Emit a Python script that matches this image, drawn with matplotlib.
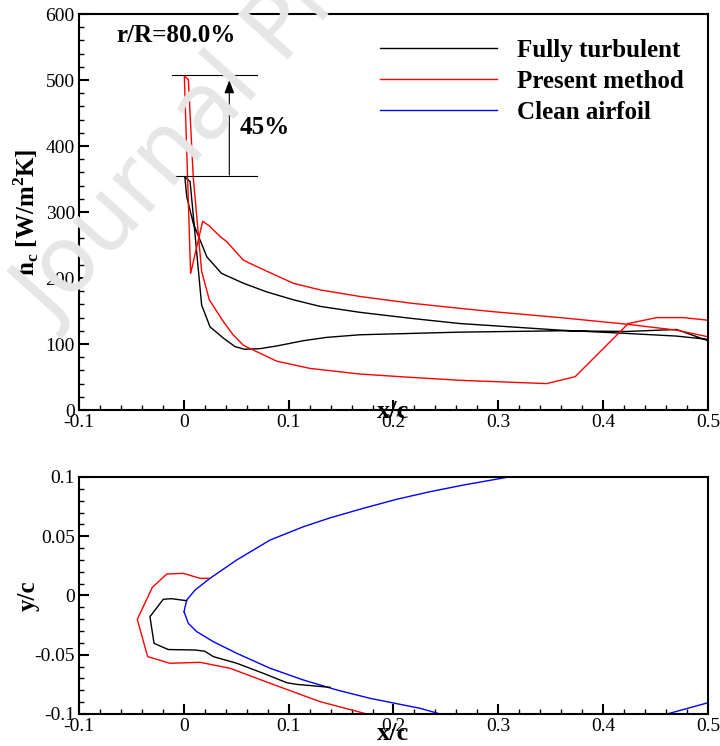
import matplotlib
matplotlib.use("Agg")
import matplotlib.pyplot as plt
from matplotlib.ticker import MultipleLocator, FuncFormatter

# ---- heat transfer coefficient, x/c vs h_c ----
ft_x = [0.5, 0.47, 0.4226, 0.359, 0.2635, 0.216, 0.168, 0.13, 0.1045, 0.079, 0.057, 0.036,
        0.022, 0.009, 0.0028, 0.001, 0.006, 0.017, 0.025, 0.0377, 0.0489, 0.058, 0.0727,
        0.0886, 0.114, 0.136, 0.168, 0.216, 0.2635, 0.359, 0.4226, 0.47, 0.5]
ft_h = [107, 112, 116, 121, 131, 139, 148, 157, 167, 179, 192, 207,
        232, 283, 323, 353, 346, 159, 126, 109, 96, 92, 93,
        97, 105, 110, 114, 116, 118, 120, 119, 122, 105]

pm_x = [0.5, 0.47, 0.4226, 0.359, 0.295, 0.2635, 0.216, 0.168, 0.13, 0.1045, 0.0727, 0.0568,
        0.041, 0.0345, 0.0243, 0.018, 0.0065, 0.0005, 0.0043, 0.009, 0.017, 0.0243, 0.0377,
        0.047, 0.0568, 0.0727, 0.0886, 0.1204, 0.168, 0.216, 0.2635, 0.346, 0.3733, 0.424,
        0.451, 0.4766, 0.5]
pm_h = [111, 121, 130, 140, 149, 154, 162, 172, 182, 192, 215, 227,
        255, 263, 279, 286, 207, 506, 501, 353, 210, 167, 134,
        114, 98, 86, 74, 63, 54.5, 49.5, 45, 40, 50.5, 131,
        140, 140, 136]

# ---- ice shapes, x/c vs y/c ----
clean_up_x = [0.0002, 0.0011, 0.0028, 0.0107, 0.025, 0.0505, 0.0823, 0.114, 0.1395, 0.1713,
              0.2032, 0.2349, 0.2667, 0.3081, 0.33]
clean_up_y = [-0.0137, -0.010, -0.0038, 0.0046, 0.0145, 0.03, 0.0468, 0.058, 0.0655, 0.0736,
              0.0812, 0.0876, 0.0932, 0.0997, 0.103]
clean_lo_x = [0.0002, 0.0043, 0.0123, 0.0282, 0.0505, 0.0823, 0.114, 0.1459, 0.1777, 0.2254,
              0.2477, 0.3, 0.36, 0.42, 0.461, 0.5]
clean_lo_y = [-0.0137, -0.0235, -0.0305, -0.039, -0.0488, -0.0614, -0.0713, -0.0797, -0.0868, -0.0952,
              -0.1008, -0.108, -0.111, -0.108, -0.1, -0.0905]

ft_ice_x = [0.0028, -0.0116, -0.0196, -0.0323, -0.0284, -0.0148, 0.0107, 0.02, 0.0282, 0.0505,
            0.0759, 0.0982, 0.1077, 0.1395]
ft_ice_y = [-0.0044, -0.0027, -0.0032, -0.0179, -0.0404, -0.0456, -0.046, -0.047, -0.0516, -0.0572,
            -0.0657, -0.0736, -0.075, -0.0775]

pm_ice_x = [0.0234, 0.0155, -0.0005, -0.0163, -0.03, -0.0444, -0.0345, -0.0132, 0.0155, 0.0441,
            0.0823, 0.13, 0.1777, 0.19]
pm_ice_y = [0.0145, 0.0145, 0.0187, 0.0181, 0.0069, -0.0201, -0.0516, -0.0572, -0.0564, -0.0614,
            -0.0741, -0.0896, -0.1007, -0.104]

plt.rcParams['font.family'] = 'Liberation Serif'
plt.rcParams['mathtext.fontset'] = 'custom'
plt.rcParams['mathtext.rm'] = 'Liberation Serif'
plt.rcParams['mathtext.bf'] = 'Liberation Serif:bold'
plt.rcParams['axes.unicode_minus'] = False

fig = plt.figure(figsize=(7.2, 7.46), dpi=100)
ax1 = fig.add_axes([0.1097, 0.4504, 0.8736, 0.5308])
ax2 = fig.add_axes([0.1097, 0.0429, 0.8736, 0.3177])

# faint watermark
fig.text(0.0, 0.545, 'Journal Pre-proof', fontsize=66, color='#e6e6e6', rotation=48,
         family='DejaVu Sans', ha='left', va='bottom', zorder=0)

fmt = FuncFormatter(lambda v, p: '%g' % round(v, 4))


def style(ax):
    ax.set_facecolor('none')
    for s in ax.spines.values():
        s.set_linewidth(1.5)
    ax.tick_params(which='both', direction='in', top=False, right=False, labelsize=14, pad=3)
    ax.tick_params(which='major', length=7, width=1.5)
    ax.tick_params(which='minor', length=3.5, width=1)
    ax.xaxis.set_major_formatter(fmt)
    ax.yaxis.set_major_formatter(fmt)


lw = 1.0
ax1.plot(ft_x, ft_h, color='black', lw=lw, label='Fully turbulent')
ax1.plot(pm_x, pm_h, color='red', lw=lw, label='Present method')
ax1.plot([], [], color='blue', lw=lw, label='Clean airfoil')
ax1.set_xlim(-0.1, 0.5)
ax1.set_ylim(0, 600)
ax1.xaxis.set_major_locator(MultipleLocator(0.1))
ax1.xaxis.set_minor_locator(MultipleLocator(0.02))
ax1.yaxis.set_major_locator(MultipleLocator(100))
ax1.yaxis.set_minor_locator(MultipleLocator(20))
style(ax1)

# 45% annotation
ax1.plot([-0.011, 0.07], [508, 508], color='black', lw=0.8)
ax1.plot([-0.011, 0.07], [354, 354], color='black', lw=0.8)
ax1.annotate('', xy=(0.0434, 500), xytext=(0.0434, 356),
             arrowprops=dict(arrowstyle='-|>,head_length=0.8,head_width=0.3', lw=0.8,
                             color='black', mutation_scale=10, shrinkA=0, shrinkB=0))
ax1.text(0.053, 428, '45%', fontsize=18, fontweight='bold', va='center')
ax1.text(-0.064, 568, 'r/R=80.0%', fontsize=18, fontweight='bold', va='center')

ax1.set_xlabel('x/c', fontsize=19, fontweight='bold')
ax1.xaxis.set_label_coords(0.5, 0.025)
ax1.set_ylabel(r'$\mathbf{h_c}$ [W/m$^\mathbf{2}$K]', fontsize=18, fontweight='bold')
ax1.yaxis.set_label_coords(-0.06, 0.5)

ax1.legend(loc='upper left', bbox_to_anchor=(0.478, 0.937), frameon=False,
           prop={'size': 18, 'weight': 'bold'}, handlelength=4.7, handletextpad=0.8,
           labelspacing=0.32, borderpad=0, borderaxespad=0)

ax2.plot(clean_up_x, clean_up_y, color='blue', lw=lw)
ax2.plot(clean_lo_x, clean_lo_y, color='blue', lw=lw)
ax2.plot(ft_ice_x, ft_ice_y, color='black', lw=lw)
ax2.plot(pm_ice_x, pm_ice_y, color='red', lw=lw)
ax2.set_xlim(-0.1, 0.5)
ax2.set_ylim(-0.1, 0.1)
ax2.xaxis.set_major_locator(MultipleLocator(0.1))
ax2.xaxis.set_minor_locator(MultipleLocator(0.02))
ax2.yaxis.set_major_locator(MultipleLocator(0.05))
ax2.yaxis.set_minor_locator(MultipleLocator(0.01))
style(ax2)
ax2.set_xlabel('x/c', fontsize=19, fontweight='bold')
ax2.xaxis.set_label_coords(0.5, -0.035)
ax2.set_ylabel('y/c', fontsize=18, fontweight='bold')
ax2.yaxis.set_label_coords(-0.062, 0.5)

fig.savefig('out.png', dpi=100)
